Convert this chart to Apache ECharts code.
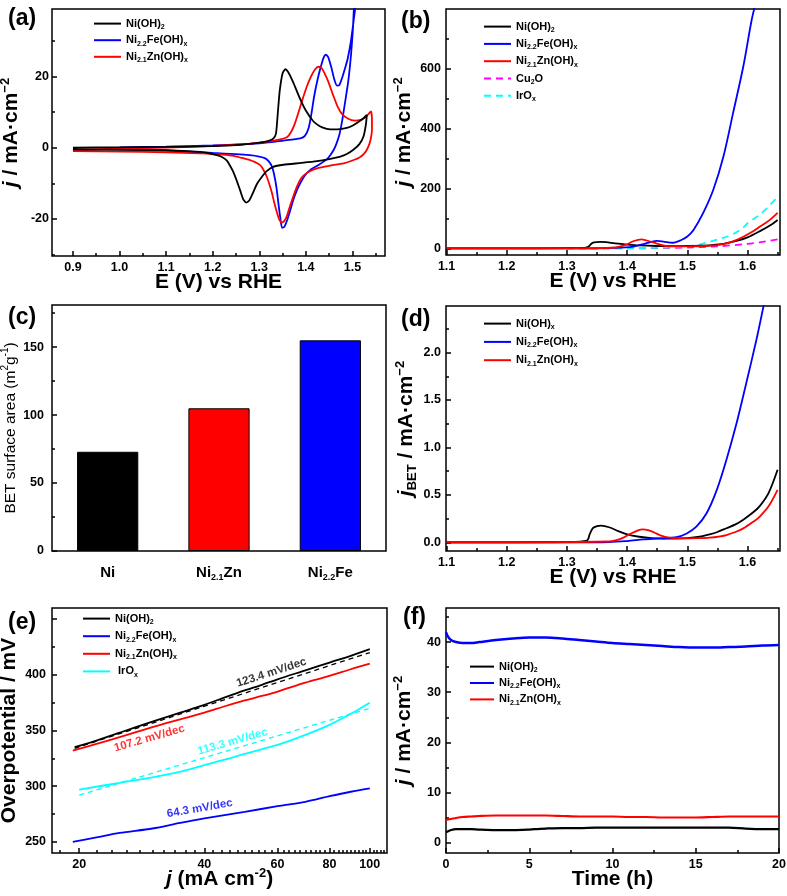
<!DOCTYPE html>
<html><head><meta charset="utf-8">
<script src="https://cdn.jsdelivr.net/npm/echarts@6/dist/echarts.min.js"></script>
<style>html,body{margin:0;padding:0;background:#fff}#c{width:787px;height:896px}</style>
</head><body><div id="c"></div>
<script>
// ---------- (a) CV ----------
const aNiE = [0.90,1.00,1.10,1.20,1.26,1.30,1.32,1.33,1.336,1.340,1.344,1.350,1.356,1.362,1.372,1.388,1.400,1.416,1.430,1.445,1.460,1.474,1.490,1.502,1.515,1.525,1.531,1.529,1.524,1.515,1.502,1.488,1.474,1.450,1.424,1.390,1.352,1.330,1.316,1.305,1.295,1.284,1.278,1.272,1.266,1.259,1.252,1.245,1.237,1.230,1.220,1.209,1.190,1.173,1.100,1.000,0.900];
const aNiJ = [0.0,0.1,0.2,0.4,0.8,1.4,1.9,2.5,4.0,10.0,16.0,20.8,22.0,21.2,18.6,13.6,10.4,7.4,6.0,5.3,5.1,5.2,5.6,6.3,7.4,8.4,9.2,6.5,3.2,1.0,-0.6,-1.8,-2.5,-3.2,-3.8,-4.3,-4.8,-5.4,-6.6,-8.3,-10.2,-13.4,-14.9,-15.4,-14.6,-12.0,-9.4,-7.0,-5.0,-3.6,-2.6,-2.1,-1.5,-1.2,-0.8,-0.6,-0.5];
const aFeE = [1.00,1.10,1.20,1.30,1.352,1.388,1.398,1.406,1.412,1.418,1.425,1.432,1.438,1.443,1.448,1.455,1.461,1.467,1.472,1.478,1.485,1.490,1.497,1.503,1.509,1.505,1.501,1.497,1.491,1.484,1.478,1.472,1.466,1.460,1.452,1.445,1.428,1.409,1.398,1.388,1.380,1.373,1.366,1.360,1.354,1.349,1.345,1.341,1.337,1.332,1.327,1.320,1.313,1.300,1.280,1.250,1.200,1.100,1.000];
const aFeJ = [0.1,0.3,0.6,1.2,2.0,2.6,3.3,5.5,9.5,14.5,19.0,22.6,25.2,26.1,25.4,22.4,19.2,17.4,17.6,19.6,22.6,25.0,30.0,36.0,42.0,42.0,33.0,26.0,18.5,12.5,7.5,3.6,1.2,-0.6,-2.2,-3.3,-4.8,-6.3,-7.8,-10.0,-12.2,-14.7,-17.8,-20.3,-22.2,-22.5,-19.5,-15.5,-11.2,-7.6,-5.2,-3.8,-3.0,-2.5,-2.1,-1.8,-1.5,-0.7,-0.3];
const aZnE = [0.90,1.00,1.10,1.20,1.28,1.316,1.345,1.360,1.368,1.376,1.384,1.392,1.402,1.412,1.420,1.427,1.434,1.440,1.448,1.459,1.468,1.478,1.491,1.505,1.518,1.528,1.535,1.540,1.542,1.542,1.539,1.534,1.527,1.517,1.500,1.481,1.450,1.424,1.410,1.400,1.390,1.382,1.373,1.365,1.359,1.353,1.348,1.343,1.338,1.332,1.327,1.321,1.316,1.308,1.302,1.290,1.280,1.260,1.245,1.210,1.173,1.100,1.000,0.900];
const aZnJ = [-0.6,-0.3,0.0,0.5,1.1,1.6,2.3,3.0,4.3,6.6,9.8,13.2,17.1,20.2,22.0,22.7,22.3,20.9,18.6,14.6,11.6,9.4,8.1,7.6,7.8,8.5,9.5,10.2,8.0,5.0,2.2,0.2,-1.4,-2.6,-3.6,-4.4,-5.1,-5.8,-6.5,-7.3,-8.6,-10.6,-13.7,-16.8,-19.3,-20.7,-21.0,-20.2,-18.2,-15.3,-12.6,-10.0,-8.1,-6.0,-4.9,-4.0,-3.5,-2.8,-2.3,-1.8,-1.6,-1.3,-1.1,-1.0];
const aXLabels = [0.9,1.0,1.1,1.2,1.3,1.4,1.5];
const aXMinor = [0.95,1.05,1.15,1.25,1.35,1.45,1.55];
const aYLabels = [-20,0,20];
const aYMinor = [-30,-10,10,30];

// ---------- (b) LSV ----------
const bNiE = [1.10,1.20,1.30,1.33,1.336,1.340,1.345,1.355,1.365,1.380,1.400,1.420,1.450,1.480,1.500,1.520,1.540,1.560,1.580,1.600,1.620,1.640,1.650];
const bNiJ = [0,0,1,2,6,15,20,22,21,17,13,10,8,7.5,8,9,11,15,24,37,57,80,95];
const bFeE = [1.10,1.30,1.38,1.41,1.43,1.449,1.46,1.476,1.49,1.50,1.51,1.526,1.543,1.56,1.576,1.593,1.607,1.615];
const bFeJ = [0,0,2,6,16,25,23,19,28,40,61,117,195,307,452,608,764,831];
const bZnE = [1.10,1.30,1.38,1.40,1.41,1.424,1.44,1.465,1.50,1.53,1.55,1.565,1.58,1.593,1.61,1.62,1.635,1.65];
const bZnJ = [0,0,3,14,24,30,22,8,7,8,11,17,27,39,58,72,92,119];
const bCuE = [1.30,1.40,1.50,1.55,1.60,1.62,1.65];
const bCuJ = [0,0,3,7,15,20,30];
const bIrE = [1.30,1.40,1.45,1.48,1.50,1.52,1.537,1.55,1.565,1.58,1.593,1.60,1.61,1.62,1.635,1.65];
const bIrJ = [0,1,2,4,7,13,22,30,39,52,70,84,98,112,140,173];
const bdXLabels = [1.1,1.2,1.3,1.4,1.5,1.6];
const bdXMinor = [1.15,1.25,1.35,1.45,1.55,1.65];
const bYLabels = [0,200,400,600];
const bYMinor = [100,300,500,700];

// ---------- (c) BET ----------
const cCats = ['Ni','Ni2.1Zn','Ni2.2Fe'];
const cValues = [73,105,155];
const cYLabels = [0,50,100,150];
const cYMinor = [25,75,125,175];

// ---------- (d) j_BET ----------
const dNiE = [1.10,1.30,1.333,1.338,1.343,1.350,1.357,1.370,1.385,1.400,1.420,1.440,1.460,1.480,1.500,1.520,1.537,1.550,1.565,1.580,1.593,1.610,1.620,1.635,1.650];
const dNiJ = [0,0.005,0.02,0.09,0.15,0.172,0.177,0.16,0.12,0.085,0.06,0.045,0.04,0.04,0.045,0.06,0.085,0.11,0.15,0.19,0.24,0.32,0.38,0.52,0.765];
const dFeE = [1.10,1.35,1.40,1.427,1.454,1.482,1.499,1.515,1.532,1.549,1.565,1.582,1.598,1.615,1.627];
const dFeJ = [0,0,0.015,0.032,0.042,0.055,0.095,0.166,0.307,0.554,0.871,1.26,1.68,2.14,2.5];
const dZnE = [1.10,1.37,1.39,1.405,1.418,1.426,1.435,1.445,1.455,1.47,1.49,1.52,1.537,1.555,1.565,1.58,1.593,1.61,1.62,1.635,1.65];
const dZnJ = [0,0.01,0.04,0.09,0.128,0.138,0.13,0.105,0.075,0.05,0.042,0.045,0.05,0.065,0.078,0.11,0.148,0.22,0.27,0.38,0.554];
const dYLabels = [0,0.5,1.0,1.5,2.0];
const dYMinor = [0.25,0.75,1.25,1.75,2.25];

// ---------- (e) Tafel ----------
const eNiJ = [19.5,22,25,30,35,40,45,50,55,60,70,80,90,100];
const eNiV = [335,341,348,358,366,373,380,386,391,396,404,411,417,423];
const eNiFitJ = [19.5,100];
const eNiFitV = [334,420];
const eZnJ = [19.3,22,25,30,35,40,45,50,55,60,70,80,90,100];
const eZnV = [332,338,344,353,360,366,372,377,381,385,393,399,405,410];
const eIrJ = [20,25,30,35,40,45,50,60,70,80,90,100];
const eIrV = [297,303,308,313,319,324,329,337,346,355,365,375];
const eIrFitJ = [20,100];
const eIrFitV = [292,370];
const eFeJ = [19.3,22,25,30,35,40,50,60,70,80,90,100];
const eFeV = [250,254,258,262,267,271,277,282,286,291,295,298];
const eNoteText = ['123.4 mV/dec','107.2 mV/dec','113.3 mV/dec','64.3 mV/dec'];
const eNoteJ = [58,29.5,46.8,39];
const eNoteV = [402,343,340,280];
const eXLabels = [20,40,60,80,100];
const eXMinor = [18,22,24,26,28,30,32,34,36,38,42,44,46,48,50,52,54,56,58,62,64,66,68,70,72,74,76,78,82,84,86,88,90,92,94,96,98,102,104,106,108];
const eYLabels = [250,300,350,400];
const eYMajorNoLabel = [450];
const eYMinor = [275,325,375,425];

// ---------- (f) stability ----------
const fT = [0,0.1,0.3,0.6,1,1.5,2,3,4,5,5.5,6,7,8,9,10,11,12,13,14,15,16,17,18,19,20];
const fFe = [42.0,41.2,40.4,40.0,39.8,39.8,40.0,40.4,40.7,40.9,40.9,40.9,40.7,40.4,40.1,39.8,39.6,39.4,39.2,39.0,38.9,38.9,39.0,39.1,39.3,39.4];
const fZn = [4.5,4.6,4.7,4.9,5.1,5.2,5.3,5.4,5.4,5.4,5.4,5.4,5.3,5.2,5.2,5.2,5.1,5.1,5.0,5.0,5.0,5.1,5.2,5.2,5.2,5.2];
const fNi = [2.0,2.2,2.5,2.7,2.7,2.7,2.6,2.5,2.5,2.6,2.7,2.8,2.9,2.9,3.0,3.0,3.0,3.0,3.0,3.0,3.0,3.0,3.0,2.8,2.7,2.7];
const fXLabels = [0,5,10,15,20];
const fXMinor = [2.5,7.5,12.5,17.5];
const fYLabels = [0,10,20,30,40];
const fYMinor = [5,15,25,35,45];

// ---------- styling / layout ----------
const F = "'Liberation Sans', Arial, Helvetica, sans-serif";
const BLACK = '#000000', BLUE = '#0000ff', RED = '#ff0000', CYAN = '#00ffff', MAGENTA = '#ff00ff';
const LOG = Math.log10;

function rich(size, weight) {
  const base = {fontFamily: F, fontWeight: weight, color: '#000'};
  const small = Math.round(size * 0.62);
  return {
    n: Object.assign({}, base, {fontSize: size, lineHeight: size + 4}),
    i: Object.assign({}, base, {fontSize: size, fontStyle: 'italic', lineHeight: size + 4}),
    sup: Object.assign({}, base, {fontSize: small, lineHeight: small + 1, verticalAlign: 'top'}),
    sub: Object.assign({}, base, {fontSize: small, lineHeight: small + 1, verticalAlign: 'bottom'})
  };
}

const grids = [
  {left: 52, top: 9, width: 333, height: 247},
  {left: 446, top: 9, width: 334, height: 246},
  {left: 52, top: 305, width: 334, height: 246},
  {left: 446, top: 306, width: 334, height: 245},
  {left: 52, top: 608, width: 335, height: 245},
  {left: 446, top: 608, width: 333, height: 245}
].map(g => Object.assign(g, {show: true, borderColor: '#000', borderWidth: 1.5, backgroundColor: 'rgba(0,0,0,0)', containLabel: false, outerBoundsMode: 'none'}));

const TICK = {color: '#000', width: 1.5};
function majorAxis(gi, o) {
  return {
    type: 'value', gridIndex: gi, min: o.min, max: o.max, position: o.pos,
    axisLine: {show: false, onZero: false}, splitLine: {show: false},
    axisTick: {show: true, inside: true, length: 5, customValues: o.ticks, lineStyle: TICK},
    axisLabel: {show: true, customValues: o.labels, formatter: o.fmt, margin: o.margin,
      color: '#000', fontSize: 12.5, fontWeight: 'bold', fontFamily: F},
    name: o.name, nameLocation: 'middle', nameGap: o.gap, nameMoveOverlap: false,
    nameTextStyle: {rich: rich(o.nsize || 21, o.nweight || 'bold'), fontFamily: F, color: '#000'}
  };
}
function minorAxis(gi, o) {
  return {
    type: 'value', gridIndex: gi, min: o.min, max: o.max, position: o.pos,
    axisLine: {show: false, onZero: false}, splitLine: {show: false}, axisLabel: {show: false},
    axisTick: {show: true, inside: true, length: 3, customValues: o.minor, lineStyle: TICK}
  };
}
const f1 = v => v.toFixed(1);
const f0 = v => String(Math.round(v));
const fLog = v => String(Math.round(Math.pow(10, v)));

const NAME_E = '{n|E (V) vs RHE}';
const NAME_J = '{i|j}{n| / mA·cm}{sup|−2}';

const xAxes = [], yAxes = [];
// (a)
xAxes.push(majorAxis(0, {min: 0.855, max: 1.570, pos: 'bottom', ticks: aXLabels, labels: aXLabels, fmt: f1, margin: 5, name: NAME_E, gap: 14}));
xAxes.push(minorAxis(0, {min: 0.855, max: 1.570, pos: 'bottom', minor: aXMinor}));
yAxes.push(majorAxis(0, {min: -30.4, max: 38.9, pos: 'left', ticks: aYLabels, labels: aYLabels, fmt: f0, margin: 3, name: NAME_J, gap: 28}));
yAxes.push(minorAxis(0, {min: -30.4, max: 38.9, pos: 'left', minor: aYMinor}));
// (b)
xAxes.push(majorAxis(1, {min: 1.099, max: 1.654, pos: 'bottom', ticks: bdXLabels, labels: bdXLabels, fmt: f1, margin: 5, name: NAME_E, gap: 14}));
xAxes.push(minorAxis(1, {min: 1.099, max: 1.654, pos: 'bottom', minor: bdXMinor}));
yAxes.push(majorAxis(1, {min: -22, max: 800, pos: 'left', ticks: bYLabels, labels: bYLabels, fmt: f0, margin: 5, name: NAME_J, gap: 29}));
yAxes.push(minorAxis(1, {min: -22, max: 800, pos: 'left', minor: bYMinor}));
// (c)
xAxes.push({
  type: 'category', gridIndex: 2, data: cCats, position: 'bottom',
  axisLine: {show: false, onZero: false}, axisTick: {show: false}, splitLine: {show: false},
  axisLabel: {interval: 0, margin: 12, formatter: v => ({'Ni': '{n|Ni}', 'Ni2.1Zn': '{n|Ni}{sub|2.1}{n|Zn}', 'Ni2.2Fe': '{n|Ni}{sub|2.2}{n|Fe}'})[v], rich: rich(15, 'bold')}
});
xAxes.push({type: 'value', gridIndex: 2, show: false, min: 0, max: 1, axisLine: {onZero: false}});
yAxes.push(majorAxis(2, {min: 0, max: 181, pos: 'left', ticks: cYLabels, labels: cYLabels, fmt: f0, margin: 8,
  name: '{n|BET surface area (m}{sup|2}{n|g}{sup|-1}{n|)}', gap: 32, nsize: 15.5, nweight: 'normal'}));
yAxes.push(minorAxis(2, {min: 0, max: 181, pos: 'left', minor: cYMinor}));
// (d)
xAxes.push(majorAxis(3, {min: 1.099, max: 1.654, pos: 'bottom', ticks: bdXLabels, labels: bdXLabels, fmt: f1, margin: 5, name: NAME_E, gap: 14}));
xAxes.push(minorAxis(3, {min: 1.099, max: 1.654, pos: 'bottom', minor: bdXMinor}));
yAxes.push(majorAxis(3, {min: -0.09, max: 2.49, pos: 'left', ticks: dYLabels, labels: dYLabels, fmt: f1, margin: 5,
  name: '{i|j}{sub|BET}{n| / mA·cm}{sup|−2}', gap: 27}));
yAxes.push(minorAxis(3, {min: -0.09, max: 2.49, pos: 'left', minor: dYMinor}));
// (e)
xAxes.push(majorAxis(4, {min: LOG(17.2), max: LOG(110), pos: 'bottom', ticks: eXLabels.map(LOG), labels: eXLabels.map(LOG), fmt: fLog, margin: 5,
  name: '{i|j}{n| (mA cm}{sup|-2}{n|)}', gap: 14}));
xAxes.push(minorAxis(4, {min: LOG(17.2), max: LOG(110), pos: 'bottom', minor: eXMinor.map(LOG)}));
yAxes.push(majorAxis(4, {min: 240, max: 460, pos: 'left', ticks: eYLabels.concat(eYMajorNoLabel), labels: eYLabels, fmt: f0, margin: 6,
  name: '{n|Overpotential / mV}', gap: 30}));
yAxes.push(minorAxis(4, {min: 240, max: 460, pos: 'left', minor: eYMinor}));
// (f)
xAxes.push(majorAxis(5, {min: 0, max: 20, pos: 'bottom', ticks: fXLabels, labels: fXLabels, fmt: f0, margin: 5, name: '{n|Time (h)}', gap: 14}));
xAxes.push(minorAxis(5, {min: 0, max: 20, pos: 'bottom', minor: fXMinor}));
yAxes.push(majorAxis(5, {min: -2.08, max: 46.8, pos: 'left', ticks: fYLabels, labels: fYLabels, fmt: f0, margin: 5, name: NAME_J, gap: 29}));
yAxes.push(minorAxis(5, {min: -2.08, max: 46.8, pos: 'left', minor: fYMinor}));

function line(name, p, X, Y, color, o) {
  o = o || {};
  return {
    type: 'line', name: name, xAxisIndex: 2 * p, yAxisIndex: 2 * p,
    data: X.map((x, k) => [x, Y[k]]), symbol: 'none', showSymbol: false,
    smooth: o.smooth == null ? 0.3 : o.smooth, clip: true, silent: true,
    lineStyle: {color: color, width: o.width || 1.8, type: o.type || 'solid'},
    itemStyle: {color: color}, z: o.z || 3
  };
}
const series = [
  line('a1', 0, aNiE, aNiJ, BLACK, {smooth: 0.2, z: 4}),
  line('a2', 0, aFeE, aFeJ, BLUE, {smooth: 0.2}),
  line('a3', 0, aZnE, aZnJ, RED, {smooth: 0.2}),
  line('b4', 1, bCuE, bCuJ, MAGENTA, {type: [7, 5]}),
  line('b5', 1, bIrE, bIrJ, CYAN, {type: [7, 5]}),
  line('b1', 1, bNiE, bNiJ, BLACK),
  line('b2', 1, bFeE, bFeJ, BLUE),
  line('b3', 1, bZnE, bZnJ, RED),
  {
    type: 'bar', xAxisIndex: 4, yAxisIndex: 4, barWidth: '55%', silent: true,
    data: cValues.map((v, k) => ({value: v, itemStyle: {color: [BLACK, RED, BLUE][k], borderColor: '#000', borderWidth: 1}}))
  },
  line('d1', 3, dNiE, dNiJ, BLACK),
  line('d2', 3, dFeE, dFeJ, BLUE),
  line('d3', 3, dZnE, dZnJ, RED),
  line('e1', 4, eNiJ.map(LOG), eNiV, BLACK, {z: 4}),
  line('e2', 4, eFeJ.map(LOG), eFeV, BLUE),
  line('e3', 4, eZnJ.map(LOG), eZnV, RED),
  line('e4', 4, eIrJ.map(LOG), eIrV, CYAN),
  line('e5', 4, eNiFitJ.map(LOG), eNiFitV, BLACK, {type: [5, 4], width: 1.3, smooth: false}),
  line('e6', 4, eIrFitJ.map(LOG), eIrFitV, CYAN, {type: [5, 4], width: 1.3, smooth: false}),
  line('f1', 5, fT, fNi, BLACK, {width: 2.2}),
  line('f2', 5, fT, fFe, BLUE, {width: 2.5}),
  line('f3', 5, fT, fZn, RED, {width: 2.2})
];
const noteColors = [BLACK, RED, CYAN, BLUE];
const noteRot = [18, 16, 16, 10];
eNoteText.forEach((t, k) => {
  series.push({
    type: 'scatter', xAxisIndex: 8, yAxisIndex: 8, symbolSize: 0, silent: true, z: 6,
    data: [[LOG(eNoteJ[k]), eNoteV[k]]],
    label: {show: true, position: 'inside', formatter: t, rotate: noteRot[k], color: noteColors[k],
      fontFamily: F, fontWeight: 'bold', fontSize: 11.5}
  });
});

const LAB = {
  NiOH2: '{n|Ni(OH)}{sub|2}', NiOHx: '{n|Ni(OH)}{sub|x}',
  Fe: '{n|Ni}{sub|2.2}{n|Fe(OH)}{sub|x}', Zn: '{n|Ni}{sub|2.1}{n|Zn(OH)}{sub|x}',
  Cu: '{n|Cu}{sub|2}{n|O}', Ir: '{n|IrO}{sub|x}', Ir2: '{n| IrO}{sub|x}'
};
const LEGMAP = {a1: 'NiOH2', a2: 'Fe', a3: 'Zn', b1: 'NiOH2', b2: 'Fe', b3: 'Zn', b4: 'Cu', b5: 'Ir',
  d1: 'NiOHx', d2: 'Fe', d3: 'Zn', e1: 'NiOH2', e2: 'Fe', e3: 'Zn', e4: 'Ir2', f1: 'NiOH2', f2: 'Fe', f3: 'Zn'};
function legend(names, left, top, gap, w) {
  return {
    data: names, left: left, top: top, orient: 'vertical', itemWidth: w || 27, itemHeight: 14,
    itemGap: gap, padding: 0, selectedMode: false,
    itemStyle: {opacity: 0, borderWidth: 0},
    formatter: n => LAB[LEGMAP[n]],
    textStyle: {rich: Object.assign(rich(11, 'bold'), {n: {fontFamily: F, fontWeight: 'bold', color: '#000', fontSize: 11, lineHeight: 14}})}
  };
}
const legends = [
  legend(['a1', 'a2', 'a3'], 93, 18, 4),
  legend(['b1', 'b2', 'b3', 'b4', 'b5'], 483, 21, 4.7),
  legend(['d1', 'd2', 'd3'], 483, 318, 5.7),
  legend(['e1', 'e2', 'e3', 'e4'], 82, 613, 5),
  legend(['f1', 'f2', 'f3'], 469, 661, 3.8, 24)
];

const panelLabels = ['(a)', '(b)', '(c)', '(d)', '(e)', '(f)'];
const labelPos = [[8, 7], [401, 10], [8, 306], [401, 308], [8, 611], [403, 606]];
const titles = panelLabels.map((t, k) => ({
  text: t, left: labelPos[k][0], top: labelPos[k][1], padding: 0,
  textStyle: {fontFamily: F, fontWeight: 'bold', fontSize: 23, color: '#000', lineHeight: 24}
}));

const chart = echarts.init(document.getElementById('c'), null, {renderer: 'canvas', width: 787, height: 896});
chart.setOption({
  backgroundColor: '#ffffff',
  animation: false,
  title: titles,
  legend: legends,
  grid: grids,
  xAxis: xAxes,
  yAxis: yAxes,
  series: series
});
</script></body></html>
